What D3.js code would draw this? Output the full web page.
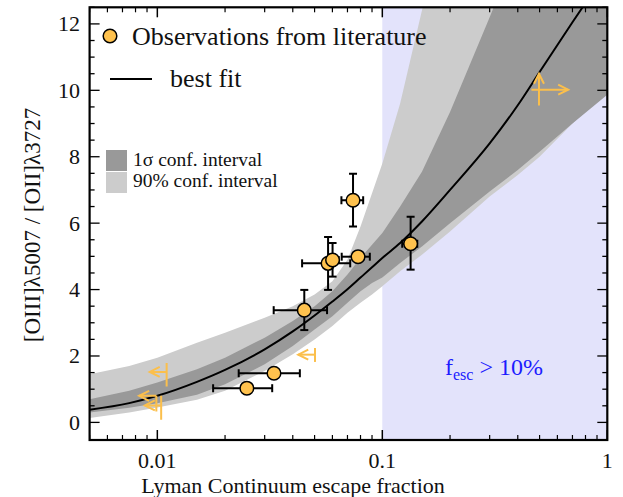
<!DOCTYPE html>
<html lang="en">
<head>
<meta charset="UTF-8">
<title>OIII/OII vs escape fraction</title>
<style>
  body { margin: 0; background: #fff; }
  svg text { font-family: "Liberation Serif", "Times New Roman", serif; fill: #111; }
</style>
</head>
<body>
<div id="chart"></div>
<script src="https://d3js.org/d3.v7.min.js"></script>
<script>
// grid of escape fractions where the fit and its intervals are sampled
const grid      = [0.005, 0.0075, 0.01, 0.015, 0.02, 0.03, 0.04, 0.05, 0.06, 0.07, 0.08, 0.09, 0.1, 0.12, 0.15, 0.2, 0.3, 0.4, 0.5, 0.7, 1.0];
const bestFit   = [0.38, 0.58, 0.80, 1.22, 1.58, 2.2, 2.74, 3.22, 3.64, 4.01, 4.36, 4.67, 4.95, 5.4, 6.05, 7.0, 8.4, 9.55, 10.55, 12.05, 13.6];
const sigHi     = [0.70, 0.95, 1.2, 1.6, 1.95, 2.55, 3.05, 3.5, 3.95, 4.45, 4.95, 5.35, 5.7, 6.5, 7.55, 9.35, 12.2, 14.3, 16, 18, 20];
const sigLo     = [0.30, 0.44, 0.58, 0.83, 1.15, 1.75, 2.3, 2.8, 3.2, 3.6, 3.95, 4.2, 4.36, 4.8, 5.3, 6.0, 6.95, 7.6, 8.15, 9.0, 9.87];
const p90Hi     = [1.45, 1.7, 1.95, 2.4, 2.7, 3.15, 3.5, 3.85, 4.25, 4.9, 5.9, 6.9, 7.8, 9.6, 12.4, 16, 20, 22, 24, 26, 28];
const p90Lo     = [0.13, 0.3, 0.45, 0.68, 0.95, 1.55, 2.05, 2.5, 2.9, 3.3, 3.6, 3.85, 4.1, 4.55, 5.05, 5.75, 6.8, 7.45, 8.0, 9.0, 9.97];

// observations from literature
const obsX    = [0.025, 0.033, 0.045, 0.0574, 0.0601, 0.078, 0.0741, 0.1336];
const obsY    = [1.03, 1.48, 3.38, 4.79, 4.89, 4.99, 6.69, 5.38];
const obsXlo  = [0.0177, 0.023, 0.0329, 0.044, 0.057, 0.066, 0.0658, 0.1226];
const obsXhi  = [0.0324, 0.043, 0.0568, 0.072, 0.064, 0.088, 0.0822, 0.143];
const obsYlo  = [0.88, 1.36, 2.78, 3.99, 4.39, 4.89, 5.90, 4.60];
const obsYhi  = [1.18, 1.60, 3.99, 5.58, 5.40, 5.09, 7.49, 6.19];

// limits (arrows)
const limX     = [0.011, 0.0099, 0.0104, 0.0502, 0.497];
const limY     = [1.52, 0.80, 0.51, 2.04, 10.02];
const limXfrom = [0.011, 0.0099, 0.0104, 0.0502, 0.46];
const limXto   = [0.00925, 0.0083, 0.0088, 0.0423, 0.67];
const limYlo   = [1.08, 0.33, 0.08, 1.82, 9.54];
const limYhi   = [1.79, 0.80, 0.80, 2.24, 10.5];
const limUp    = [false, false, false, false, true];

const xMajor = [0.01, 0.1, 1];
const xMajorLabels = ["0.01", "0.1", "1"];
const yMajor = [0, 2, 4, 6, 8, 10, 12];

const W = 623, H = 497;
const L = 89.6, R = 607.3, T = 7.3, B = 440;

const svg = d3.select("#chart").append("svg")
  .attr("width", W).attr("height", H);

const x = d3.scaleLog().domain([0.005, 1]).range([L, R]);
const y = d3.scaleLinear().domain([-0.53, 12.5]).range([B, T]);

svg.append("clipPath").attr("id", "plot")
  .append("rect").attr("x", L).attr("y", T).attr("width", R - L).attr("height", B - T);

const g = svg.append("g").attr("clip-path", "url(#plot)");

// f_esc > 10% region
g.append("rect")
  .attr("x", x(0.1)).attr("y", T)
  .attr("width", x(1) - x(0.1)).attr("height", B - T)
  .attr("fill", "#e3e3fb");

const rows = grid.map((f, i) => ({ f, fit: bestFit[i], sh: sigHi[i], sl: sigLo[i], ph: p90Hi[i], pl: p90Lo[i] }));

g.append("path").datum(rows)
  .attr("fill", "#cccccc")
  .attr("d", d3.area().x(d => x(d.f)).y0(d => y(d.pl)).y1(d => y(d.ph)));

g.append("path").datum(rows)
  .attr("fill", "#999999")
  .attr("d", d3.area().x(d => x(d.f)).y0(d => y(d.sl)).y1(d => y(d.sh)));

g.append("path").datum(rows)
  .attr("fill", "none").attr("stroke", "#000").attr("stroke-width", 2)
  .attr("d", d3.line().x(d => x(d.f)).y(d => y(d.fit)).curve(d3.curveMonotoneX));

// limit arrows
const orange = "#fbbf4c";
limX.forEach((lx, i) => {
  const a = g.append("g").attr("stroke", orange).attr("stroke-width", 2).attr("fill", "none");
  const cx = x(lx), cy = y(limY[i]);
  a.append("line").attr("x1", cx).attr("x2", cx).attr("y1", y(limYlo[i])).attr("y2", y(limYhi[i]));
  const x0 = x(limXfrom[i]), x1 = x(limXto[i]);
  a.append("line").attr("x1", x0).attr("x2", x1).attr("y1", cy).attr("y2", cy);
  const dir = x1 < x0 ? 1 : -1;
  a.append("path").attr("d", `M${x1 + dir * 10},${cy - 5}L${x1},${cy}L${x1 + dir * 10},${cy + 5}`);
  if (limUp[i]) {
    const yt = y(limYhi[i]);
    a.append("path").attr("d", `M${cx - 5},${yt + 10}L${cx},${yt}L${cx + 5},${yt + 10}`);
  }
});

// observations with error bars
obsX.forEach((ox, i) => {
  const e = g.append("g").attr("stroke", "#000").attr("stroke-width", 2);
  const cx = x(ox), cy = y(obsY[i]);
  const xl = x(obsXlo[i]), xh = x(obsXhi[i]), yl = y(obsYlo[i]), yh = y(obsYhi[i]);
  e.append("line").attr("x1", xl).attr("x2", xh).attr("y1", cy).attr("y2", cy);
  e.append("line").attr("x1", xl).attr("x2", xl).attr("y1", cy - 4).attr("y2", cy + 4);
  e.append("line").attr("x1", xh).attr("x2", xh).attr("y1", cy - 4).attr("y2", cy + 4);
  e.append("line").attr("x1", cx).attr("x2", cx).attr("y1", yl).attr("y2", yh);
  e.append("line").attr("x1", cx - 4).attr("x2", cx + 4).attr("y1", yl).attr("y2", yl);
  e.append("line").attr("x1", cx - 4).attr("x2", cx + 4).attr("y1", yh).attr("y2", yh);
  g.append("circle").attr("cx", cx).attr("cy", cy).attr("r", 6.8)
    .attr("fill", "#ffc24e").attr("stroke", "#000").attr("stroke-width", 1.5);
});

// ticks, all inward
const ax = svg.append("g").attr("stroke", "#000");
const xMinor = [];
[0.001, 0.01, 0.1].forEach(dec => { for (let k = 2; k <= 9; k++) xMinor.push(dec * k); });
xMinor.filter(v => v >= 0.005 && v < 1).forEach(v => {
  ax.append("line").attr("x1", x(v)).attr("x2", x(v)).attr("y1", B).attr("y2", B - 5).attr("stroke-width", 1.2);
  ax.append("line").attr("x1", x(v)).attr("x2", x(v)).attr("y1", T).attr("y2", T + 5).attr("stroke-width", 1.2);
});
xMajor.forEach(v => {
  ax.append("line").attr("x1", x(v)).attr("x2", x(v)).attr("y1", B).attr("y2", B - 10).attr("stroke-width", 1.5);
  ax.append("line").attr("x1", x(v)).attr("x2", x(v)).attr("y1", T).attr("y2", T + 10).attr("stroke-width", 1.5);
});
d3.range(0, 12.51, 0.5).forEach(v => {
  const len = yMajor.includes(v) ? 10 : 5;
  ax.append("line").attr("x1", L).attr("x2", L + len).attr("y1", y(v)).attr("y2", y(v)).attr("stroke-width", 1.3);
  ax.append("line").attr("x1", R).attr("x2", R - len).attr("y1", y(v)).attr("y2", y(v)).attr("stroke-width", 1.3);
});

svg.append("rect").attr("x", L).attr("y", T).attr("width", R - L).attr("height", B - T)
  .attr("fill", "none").attr("stroke", "#000").attr("stroke-width", 2.2);

// tick labels
svg.selectAll(".xl").data(xMajor).enter().append("text")
  .attr("x", d => x(d)).attr("y", 468).attr("text-anchor", "middle")
  .attr("font-size", 22).text((d, i) => xMajorLabels[i]);
svg.selectAll(".yl").data(yMajor).enter().append("text")
  .attr("x", 80).attr("y", d => y(d) + 7.5).attr("text-anchor", "end")
  .attr("font-size", 22).text(d => d);

svg.append("text").attr("x", 293).attr("y", 493).attr("text-anchor", "middle")
  .attr("font-size", 22).text("Lyman Continuum escape fraction");
svg.append("text").attr("transform", "translate(40,225) rotate(-90)")
  .attr("text-anchor", "middle").attr("font-size", 23).text("[OIII]λ5007 / [OII]λ3727");

// f_esc label
const fl = svg.append("text").attr("x", 445).attr("y", 375).attr("font-size", 24).style("fill", "#1c1cff");
fl.append("tspan").text("f");
fl.append("tspan").attr("font-size", 16).attr("dy", 5).text("esc");
fl.append("tspan").attr("dy", -5).text(" > 10%");

// legend
svg.append("circle").attr("cx", 110).attr("cy", 36).attr("r", 6.8)
  .attr("fill", "#ffc24e").attr("stroke", "#000").attr("stroke-width", 1.5);
svg.append("text").attr("x", 132).attr("y", 45).attr("font-size", 26).text("Observations from literature");
svg.append("line").attr("x1", 110).attr("x2", 152).attr("y1", 79).attr("y2", 79)
  .attr("stroke", "#000").attr("stroke-width", 2);
svg.append("text").attr("x", 170).attr("y", 87).attr("font-size", 26).text("best fit");

svg.append("rect").attr("x", 106).attr("y", 150).attr("width", 21).attr("height", 21).attr("fill", "#999999");
svg.append("rect").attr("x", 106).attr("y", 172).attr("width", 21).attr("height", 21).attr("fill", "#cccccc");
svg.append("text").attr("x", 133).attr("y", 166).attr("font-size", 19.5).text("1σ conf. interval");
svg.append("text").attr("x", 133).attr("y", 187).attr("font-size", 19.5).text("90% conf. interval");
</script>
</body>
</html>
